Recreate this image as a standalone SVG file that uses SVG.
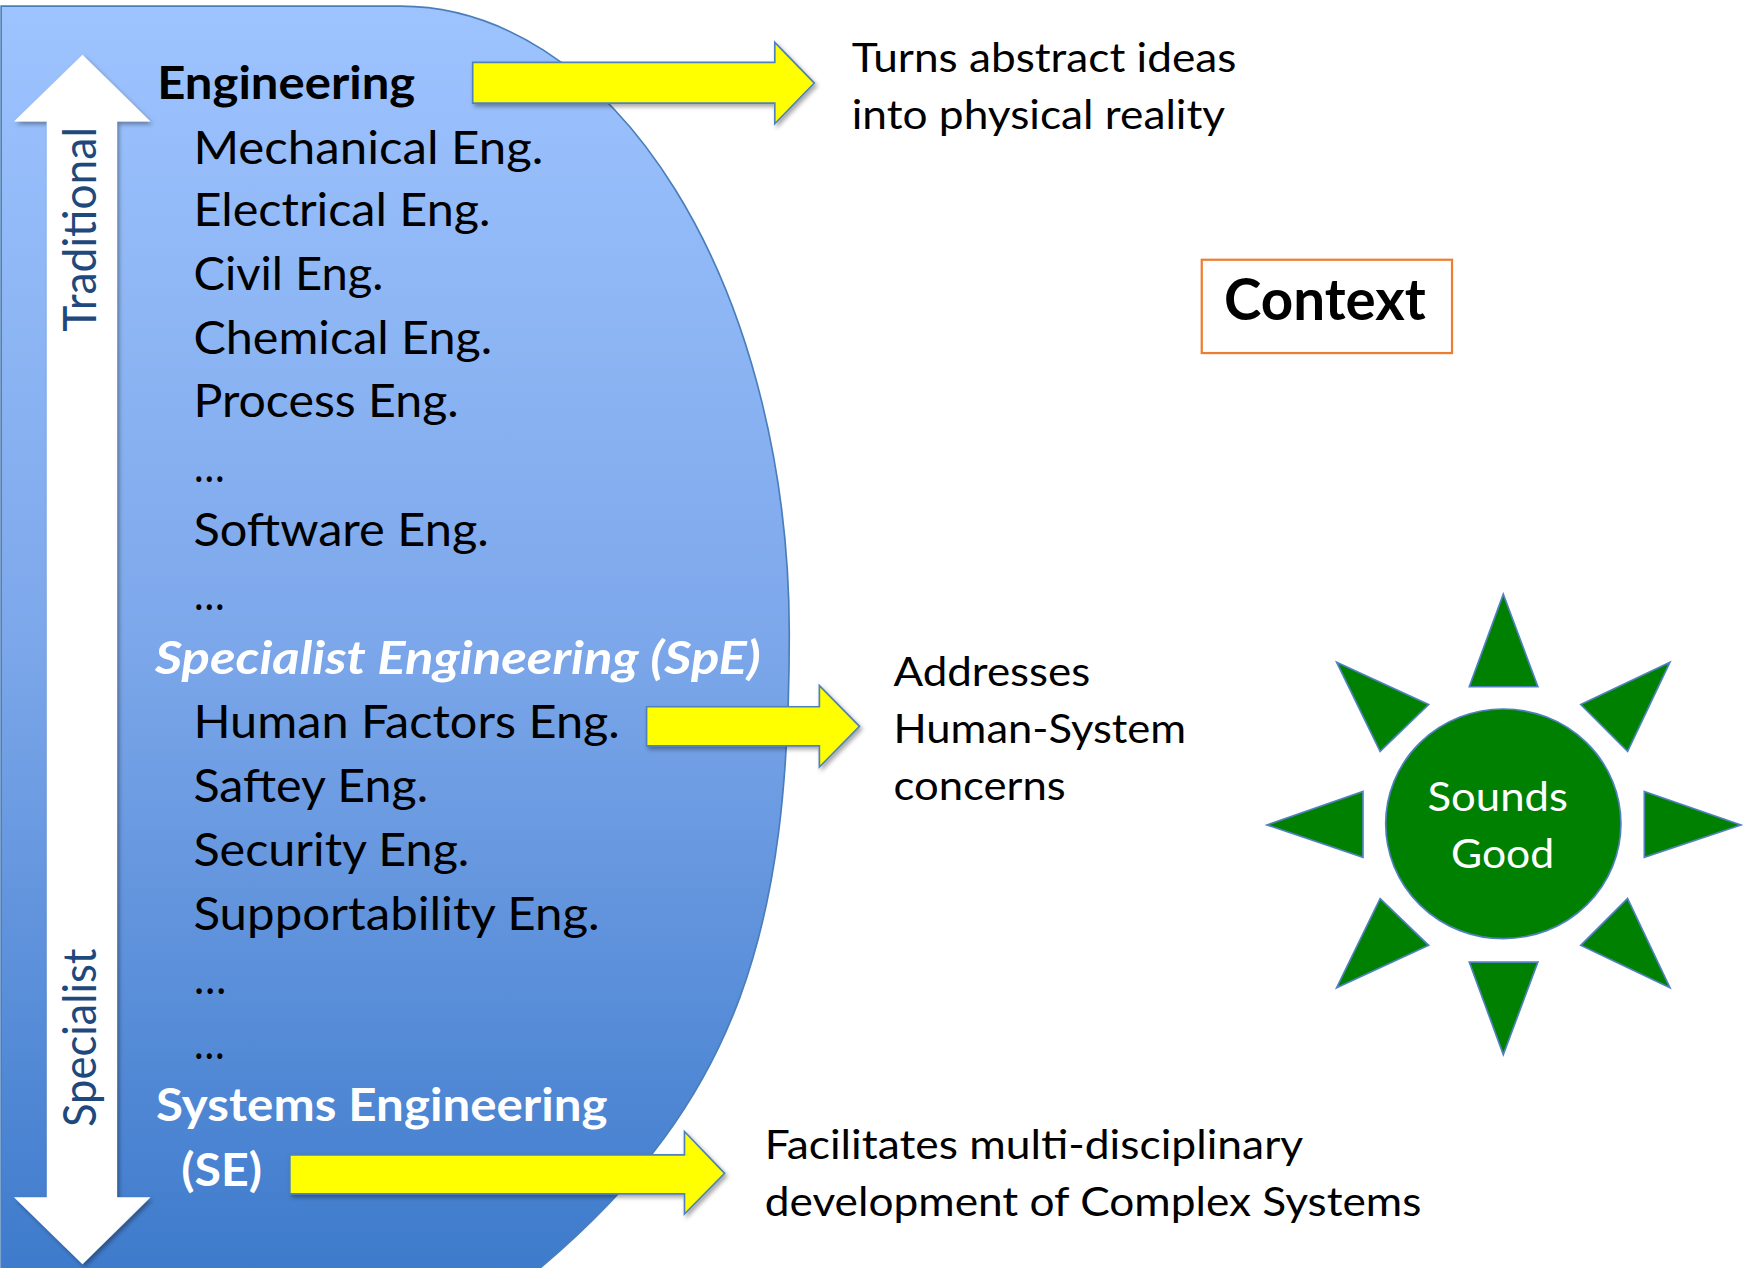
<svg xmlns="http://www.w3.org/2000/svg" width="1748" height="1268" viewBox="0 0 1748 1268">
<defs>
<linearGradient id="blueGrad" x1="0" y1="0" x2="0" y2="1">
<stop offset="0" stop-color="#9EC4FF"/>
<stop offset="0.5" stop-color="#7CA7EA"/>
<stop offset="1" stop-color="#3D7ACB"/>
</linearGradient>
<filter id="sh" x="-10%" y="-10%" width="130%" height="130%">
<feDropShadow dx="2" dy="2.5" stdDeviation="2" flood-color="#000" flood-opacity="0.35"/>
</filter>
</defs>
<style>
.t{font-family:Lato,'Open Sans','Liberation Sans',sans-serif;font-size:41px;fill:#000}
.b{font-weight:bold}
.i{font-style:italic}
.w{fill:#fff}
.r{font-size:37px}
.rot{fill:#1F497D}
.yarrow{fill:#FFFF00;stroke:#4F81BD;stroke-width:1.5;filter:url(#sh)}
.ray{fill:#008000;stroke:#4F81BD;stroke-width:1.5}
</style>
<rect width="1748" height="1268" fill="#fff"/>
<g transform="scale(1.1148)">
<g id="discipline-panel">
<path d="M1,5.5 L359,5.5 A349,562.5 0 0 1 708,568 C708,830 665,985 485,1137 L470,1150 L1,1150 Z" fill="url(#blueGrad)" stroke="#4A7EBB" stroke-width="1.5"/>
</g>
<g id="scale-arrow">
<path d="M74,49 L135,109 L105,109 L105,1074 L135,1074 L74,1134 L12.5,1074 L42,1074 L42,109 L12.5,109 Z" fill="#fff" filter="url(#sh)"/>
<text class="t rot" transform="translate(86,297.5) rotate(-90)" textLength="183.5" lengthAdjust="spacingAndGlyphs">Traditional</text>
<text class="t rot" transform="translate(86,1011) rotate(-90)" textLength="160" lengthAdjust="spacingAndGlyphs">Specialist</text>
</g>
<g id="engineering-list">
<text class="t b" x="141" y="89" textLength="231.5" lengthAdjust="spacingAndGlyphs">Engineering</text>
<text class="t" x="173.5" y="147" textLength="314" lengthAdjust="spacingAndGlyphs">Mechanical Eng.</text>
<text class="t" x="173.5" y="203" textLength="266.5" lengthAdjust="spacingAndGlyphs">Electrical Eng.</text>
<text class="t" x="173.5" y="260" textLength="170.5" lengthAdjust="spacingAndGlyphs">Civil Eng.</text>
<text class="t" x="173.5" y="317.4" textLength="268" lengthAdjust="spacingAndGlyphs">Chemical Eng.</text>
<text class="t" x="173.5" y="374" textLength="238" lengthAdjust="spacingAndGlyphs">Process Eng.</text>
<text class="t" x="174" y="432.6" textLength="27.5" lengthAdjust="spacingAndGlyphs">…</text>
<text class="t" x="173.5" y="489.6" textLength="265" lengthAdjust="spacingAndGlyphs">Software Eng.</text>
<text class="t" x="174" y="547" textLength="27.5" lengthAdjust="spacingAndGlyphs">…</text>
</g>
<g id="specialist-list">
<text class="t b i w" x="139" y="605" textLength="543.5" lengthAdjust="spacingAndGlyphs">Specialist Engineering (SpE)</text>
<text class="t" x="173.5" y="662.3" textLength="382.5" lengthAdjust="spacingAndGlyphs">Human Factors Eng.</text>
<text class="t" x="173.5" y="719.2" textLength="210.5" lengthAdjust="spacingAndGlyphs">Saftey Eng.</text>
<text class="t" x="173.5" y="777" textLength="247.5" lengthAdjust="spacingAndGlyphs">Security Eng.</text>
<text class="t" x="173.5" y="834.6" textLength="364.5" lengthAdjust="spacingAndGlyphs">Supportability Eng.</text>
<text class="t" x="174" y="891.6" textLength="29" lengthAdjust="spacingAndGlyphs">…</text>
<text class="t" x="174" y="949.6" textLength="27.5" lengthAdjust="spacingAndGlyphs">…</text>
</g>
<g id="systems-engineering">
<text class="t b w" x="140" y="1005.8" textLength="405" lengthAdjust="spacingAndGlyphs">Systems Engineering</text>
<text class="t b w" x="162.5" y="1064" textLength="72.5" lengthAdjust="spacingAndGlyphs">(SE)</text>
</g>
<g id="connectors">
<path class="yarrow" d="M424,56 L695,56 L695,38 L730.5,74.5 L695,111 L695,92.5 L424,92.5 Z"/>
<path class="yarrow" d="M580,634 L735,634 L735,615 L771,651.5 L735,688 L735,669 L580,669 Z"/>
<path class="yarrow" d="M260,1036 L614,1036 L614,1015 L650,1052.5 L614,1089 L614,1071 L260,1071 Z"/>
</g>
<g id="note-engineering">
<text class="t r" x="764" y="64.6" textLength="345" lengthAdjust="spacingAndGlyphs">Turns abstract ideas</text>
<text class="t r" x="764" y="115.3" textLength="335" lengthAdjust="spacingAndGlyphs">into physical reality</text>
</g>
<g id="context">
<rect x="1078" y="233" width="224.5" height="83.7" fill="#fff" stroke="#ED7D31" stroke-width="2"/>
<text class="t b" x="1098" y="286.6" style="font-size:51px" textLength="181" lengthAdjust="spacingAndGlyphs">Context</text>
</g>
<g id="note-specialist">
<text class="t r" x="801.5" y="615" textLength="176.5" lengthAdjust="spacingAndGlyphs">Addresses</text>
<text class="t r" x="801.5" y="666.7" textLength="262.5" lengthAdjust="spacingAndGlyphs">Human-System</text>
<text class="t r" x="801.5" y="717.4" textLength="154.5" lengthAdjust="spacingAndGlyphs">concerns</text>
</g>
<g id="note-systems">
<text class="t r" x="686" y="1039.5" textLength="483" lengthAdjust="spacingAndGlyphs">Facilitates multi-disciplinary</text>
<text class="t r" x="686" y="1091" textLength="589" lengthAdjust="spacingAndGlyphs">development of Complex Systems</text>
</g>
<g id="sounds-good">
<polygon class="ray" points="1348.5,533 1379.5,616 1318,616"/>
<polygon class="ray" points="1318,863 1379.5,863 1348.5,946"/>
<polygon class="ray" points="1136.5,740 1222.6,710 1222.6,769"/>
<polygon class="ray" points="1475,710 1561.6,740 1475,769"/>
<polygon class="ray" points="1199,594 1281.5,632 1238,674"/>
<polygon class="ray" points="1498,594 1460,674 1418,632"/>
<polygon class="ray" points="1238,806 1281.5,848 1199,886"/>
<polygon class="ray" points="1460,806 1498,886 1418,848"/>
<ellipse class="ray" cx="1348.5" cy="739" rx="105.5" ry="103"/>
<text class="t r w" x="1280.5" y="727.5" textLength="126" lengthAdjust="spacingAndGlyphs">Sounds</text>
<text class="t r w" x="1301.6" y="779" textLength="92.5" lengthAdjust="spacingAndGlyphs">Good</text>
</g>
</g>
</svg>
